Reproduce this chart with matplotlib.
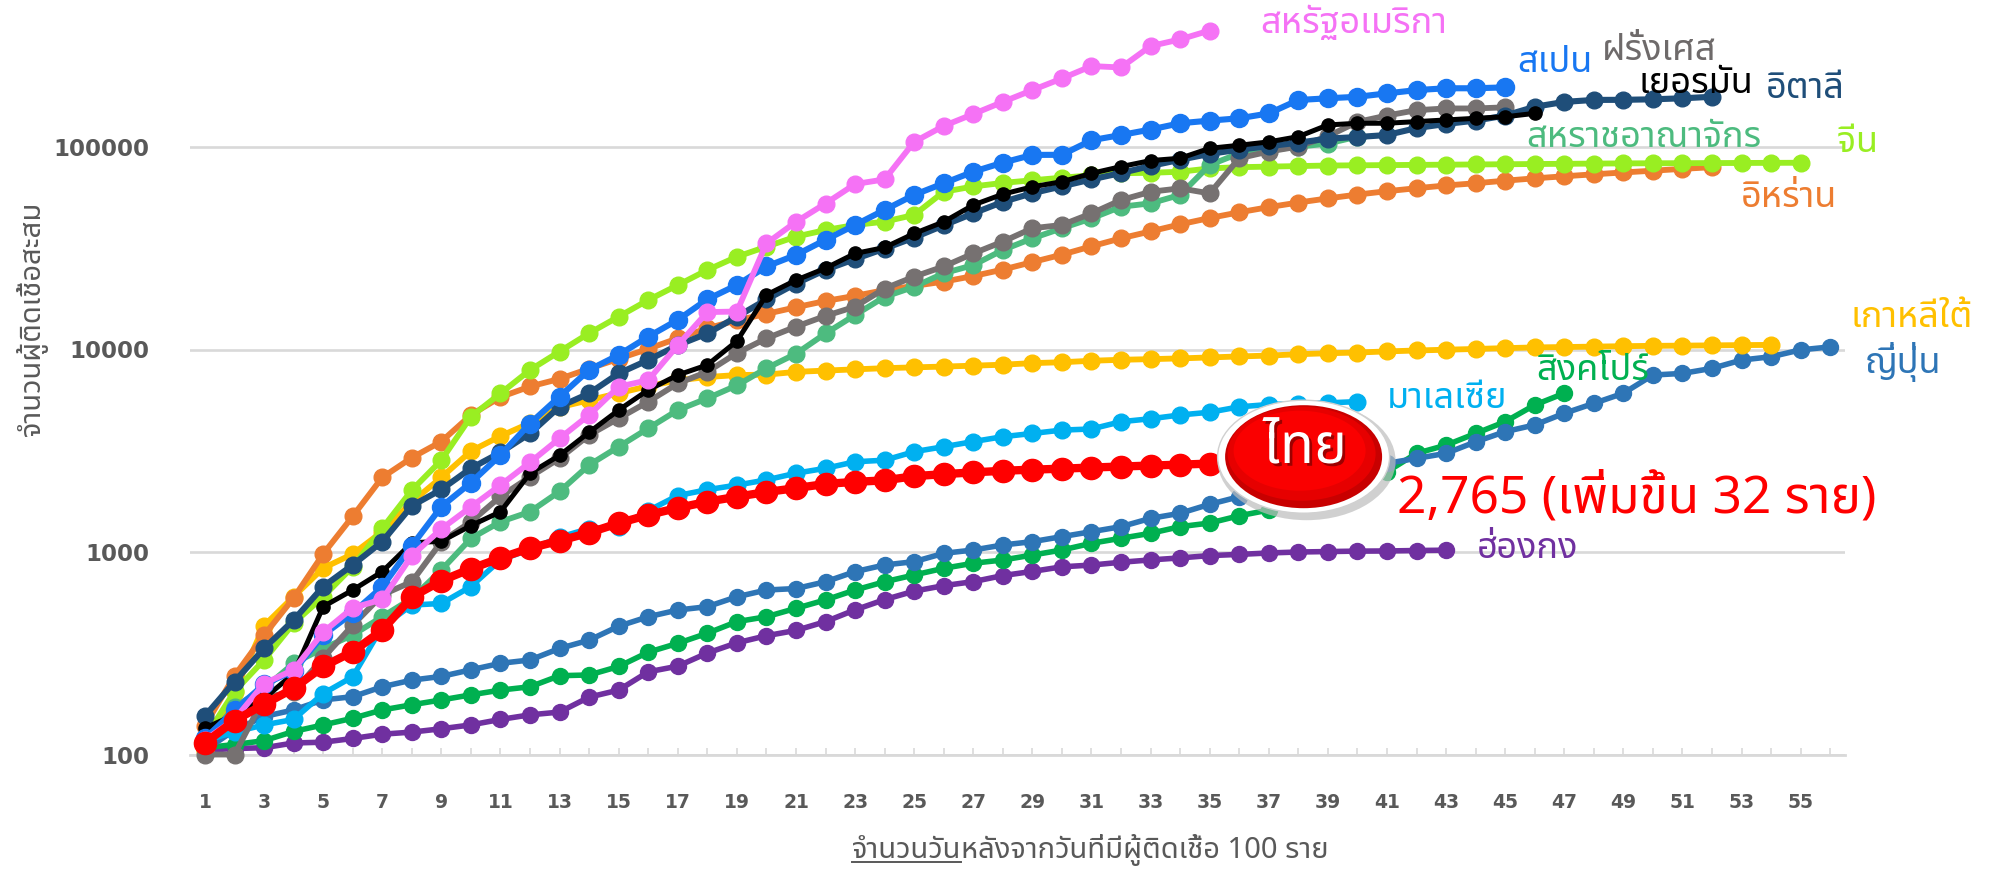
import matplotlib
matplotlib.use('Agg')
import matplotlib.pyplot as plt
import matplotlib.patches as patches
import matplotlib.patheffects as pe
from matplotlib import font_manager
import numpy as np

# cumulative cases, day 1 = first day with 100+ cases
usa = [118, 149, 224, 262, 402, 530, 583, 959, 1300, 1670, 2140, 2770, 3640, 4750, 6550, 7060,
       10500, 15300, 15400, 33400, 42700, 52600, 65600, 69200, 106000, 127000, 145500, 167000,
       191000, 218000, 251000, 247000, 315000, 340000, 376000]
spain = [120, 165, 222, 259, 389, 500, 673, 1073, 1675, 2200, 3010, 4310, 5850, 7930, 9400, 11570,
         14000, 17700, 20800, 25700, 29300, 34800, 41200, 48900, 58000, 66200, 75500, 83700, 91400,
         91500, 108000, 114600, 122000, 131000, 135000, 138600, 146500, 170600, 174000, 177000,
         184000, 191000, 195000, 195000, 197000]
france = [100, 100, 191, 204, 300, 435, 614, 713, 1125, 1410, 1880, 2350, 2900, 3780, 4570, 5520,
          6800, 7760, 9600, 11350, 12970, 14650, 16270, 20000, 22900, 25700, 29800, 34100, 39700,
          41200, 47000, 54700, 60100, 62500, 59000, 88000, 95000, 100500, 113000, 133000, 143000,
          152000, 155000, 155000, 157000]
germany = [135, 157, 189, 251, 537, 649, 800, 1110, 1130, 1350, 1580, 2450, 3000, 3900, 5020, 6310,
           7480, 8390, 11000, 18600, 22000, 25200, 29800, 31900, 37400, 42700, 51700, 58500, 63600,
           67400, 74100, 80000, 85700, 88000, 98500, 102000, 106000, 112500, 128500, 131000, 131000,
           133500, 136000, 138600, 141000, 146600]
italy = [155, 229, 334, 461, 675, 863, 1125, 1690, 2036, 2590, 3100, 3850, 5220, 6070, 7620, 8870,
         10500, 12000, 14500, 17660, 21157, 24747, 27980, 31506, 35713, 41035, 47021, 53578, 59138,
         63927, 69176, 74386, 80589, 86498, 92472, 97000, 101000, 105000, 110000, 112000, 114600,
         124000, 130000, 135000, 143000, 158000, 167000, 170800, 171000, 172000, 174000, 177000]
uk = [116, 172, 212, 282, 334, 389, 479, 590, 815, 1167, 1410, 1580, 1990, 2690, 3310, 4080, 5020,
      5740, 6650, 8077, 9529, 12000, 14800, 18200, 20400, 23800, 26100, 31000, 35400, 39700, 44400,
      50700, 52700, 58000, 81500, 93000, 96600, 100300, 104000, 112500]
china = [121, 205, 293, 445, 601, 846, 1309, 2020, 2840, 4660, 6070, 7920, 9770, 12030, 14530, 17550,
         20800, 24700, 28700, 32200, 36100, 38900, 41200, 42800, 46200, 60100, 63851, 66492, 68500,
         70548, 72436, 74185, 74576, 75465, 78400, 79500, 80000, 80500, 81000, 81200, 81400, 81600,
         81800, 82000, 82200, 82400, 82600, 82800, 83000, 83100, 83200, 83300, 83400, 83500, 83600]
iran = [139, 245, 388, 593, 978, 1501, 2336, 2922, 3513, 4747, 5823, 6566, 7161, 8042, 9000, 10075,
        11364, 12729, 13938, 14991, 16169, 17361, 18407, 19644, 20610, 21638, 23049, 24811, 27017,
        29406, 32332, 35408, 38309, 41495, 44605, 47593, 50468, 53183, 55743, 58226, 60500, 62589,
        64586, 66220, 68192, 70029, 71686, 73303, 74877, 76389, 77995, 79494]
korea = [104, 204, 433, 602, 833, 977, 1261, 1766, 2337, 3150, 3736, 4335, 5186, 5621, 6088, 6593,
         7041, 7314, 7478, 7513, 7755, 7869, 7979, 8086, 8162, 8236, 8320, 8413, 8565, 8652, 8799,
         8897, 8961, 9037, 9137, 9241, 9332, 9478, 9583, 9661, 9786, 9887, 9976, 10062, 10156,
         10237, 10284, 10331, 10384, 10423, 10450, 10480, 10512, 10537]
japan = [105, 132, 154, 166, 186, 193, 216, 233, 243, 262, 282, 293, 334, 367, 430, 479, 517, 537,
         601, 649, 660, 713, 800, 863, 896, 985, 1023, 1083, 1125, 1191, 1260, 1334, 1466, 1553,
         1720, 1875, 1953, 2100, 2300, 2495, 2740, 2900, 3070, 3500, 3930, 4240, 4840, 5420, 6080,
         7480, 7620, 8070, 8870, 9210, 9960, 10300]
singapore = [108, 112, 117, 130, 140, 151, 166, 176, 186, 197, 208, 216, 245, 247, 272, 320, 354,
             397, 453, 479, 527, 580, 649, 713, 770, 831, 880, 913, 966, 1023, 1104, 1169, 1237,
             1334, 1390, 1510, 1611, 1750, 1950, 2200, 2490, 3070, 3370, 3850, 4400, 5320, 6080]
malaysia = [117, 129, 140, 149, 200, 242, 428, 547, 557, 675, 914, 1030, 1183, 1306, 1330, 1600,
            1900, 2031, 2140, 2270, 2450, 2590, 2790, 2840, 3130, 3310, 3510, 3710, 3850, 4000,
            4050, 4400, 4550, 4750, 4900, 5210, 5350, 5400, 5450, 5530]
thailand = [114, 147, 177, 212, 272, 322, 411, 599, 721, 827, 934, 1045, 1136, 1245, 1388, 1524,
            1651, 1771, 1875, 1978, 2067, 2169, 2220, 2258, 2369, 2423, 2473, 2518, 2551, 2579,
            2613, 2643, 2672, 2700, 2733, 2765]
hongkong = [105, 107, 108, 114, 115, 120, 126, 129, 134, 140, 149, 157, 162, 192, 208, 256, 273, 317,
            356, 386, 410, 453, 518, 582, 641, 682, 714, 765, 802, 845, 862, 890, 914, 935, 960,
            973, 989, 1000, 1005, 1010, 1012, 1017, 1021]

y_ticks = [100, 1000, 10000, 100000]
y_ticklabels = ['100', '1000', '10000', '100000']
x_days = list(range(1, 57))
x_ticklabels = [str(d) if d % 2 == 1 else '' for d in x_days]


def thai_family():
    names = {f.name for f in font_manager.fontManager.ttflist}
    for key in ['Noto Sans Thai', 'Noto Sans Thai UI', 'Noto Sans Thai Looped', 'Sarabun',
                'Loma', 'Garuda', 'Waree', 'Tlwg Typo', 'Kinnari', 'Norasi']:
        if key in names:
            return key
    for n in sorted(names):
        if 'Thai' in n:
            return n
    return 'DejaVu Sans'


THAI = thai_family()
plt.rcParams['font.family'] = [THAI, 'DejaVu Sans']

W, H = 1993, 869
fig = plt.figure(figsize=(W / 100, H / 100), dpi=100)
fig.patch.set_facecolor('white')

ax_l, ax_r, ax_b = 190.2, 1845.0, 754.5
ax = fig.add_axes([ax_l / W, 1 - ax_b / H, (ax_r - ax_l) / W, ax_b / H])
ax.set_yscale('log')
ax.set_xlim(0.5, 56.5)
ax.set_ylim(100, 10 ** (2 + 754.5 / 202.5))

# (values, colour, line width, marker size, zorder)
series = [
    (hongkong, '#7030A0', 4.0, 11.5, 3),
    (singapore, '#00B050', 4.0, 11.5, 3),
    (japan, '#2E75B6', 4.0, 11.5, 3),
    (malaysia, '#00B0F0', 4.0, 12, 3),
    (korea, '#FFC000', 4.2, 12, 3),
    (iran, '#ED7D31', 4.2, 12, 3),
    (china, '#99EE22', 4.2, 12, 3),
    (uk, '#4DBB7F', 4.2, 12, 4),
    (france, '#767171', 4.2, 12, 4),
    (italy, '#1F4E79', 4.4, 12, 4),
    (germany, '#000000', 3.6, 9.5, 5),
    (spain, '#1877F2', 4.4, 13, 5),
    (usa, '#F572F5', 4.2, 12, 5),
    (thailand, '#FF0000', 6.0, 16, 8),
]
for vals, col, lw, ms, z in series:
    ax.plot(np.arange(1, len(vals) + 1), vals, '-o', color=col, lw=lw, ms=ms,
            zorder=z, clip_on=False)

for s in ['top', 'right', 'left']:
    ax.spines[s].set_visible(False)
ax.spines['bottom'].set_color('#D9D9D9')
ax.spines['bottom'].set_linewidth(2.0)
ax.set_yticks(y_ticks)
ax.set_yticklabels(y_ticklabels)
ax.yaxis.set_minor_locator(matplotlib.ticker.NullLocator())
ax.grid(axis='y', color='#D9D9D9', lw=1.9, zorder=0)
ax.set_axisbelow(True)
ax.tick_params(axis='y', length=0, pad=29.5, labelcolor='#595959')
ax.set_xticks(x_days)
ax.set_xticklabels(x_ticklabels)
ax.tick_params(axis='x', direction='in', length=5, width=1.2, color='#D9D9D9',
               pad=28, labelcolor='#595959')
for lbl in ax.get_yticklabels():
    lbl.set_fontfamily('DejaVu Sans')
    lbl.set_fontweight('bold')
    lbl.set_fontsize(16.5)
for lbl in ax.get_xticklabels():
    lbl.set_fontfamily('DejaVu Sans')
    lbl.set_fontweight('bold')
    lbl.set_fontsize(13.5)


def fx(x):
    return x / W


def fy(y):
    return 1 - y / H


labels = [
    ('สหรัฐอเมริกา', '#F572F5', 1260, 33),
    ('สเปน', '#1877F2', 1517, 72),
    ('ฝรั่งเศส', '#6E6A6A', 1602, 60),
    ('เยอรมัน', '#000000', 1639, 93),
    ('อิตาลี', '#1F4E79', 1766, 98),
    ('สหราชอาณาจักร', '#4DBB7F', 1526, 147),
    ('จีน', '#99EE22', 1837, 152),
    ('อิหร่าน', '#ED7D31', 1741, 207),
    ('เกาหลีใต้', '#FFC000', 1850, 327),
    ('ญี่ปุ่น', '#2E75B6', 1865, 373),
    ('สิงคโปร์', '#00B050', 1536, 380),
    ('มาเลเซีย', '#00B0F0', 1387, 408),
    ('ฮ่องกง', '#7030A0', 1477, 558),
]
for txt, col, x, y in labels:
    fig.text(fx(x), fy(y), txt, color=col, fontsize=26, ha='left', va='baseline')

fig.text(fx(1397), fy(512), '2,765 (เพิ่มขึ้น 32 ราย)', color='#FF0000', fontsize=37,
         ha='left', va='baseline')

# Thailand badge
cx, cy = 1303.6, 456.7
fig.patches.append(patches.Ellipse((fx(cx + 3), fy(cy + 4)), 178 / W, 119 / H,
                                   transform=fig.transFigure, facecolor='#BDBDBD',
                                   edgecolor='none', alpha=0.7, zorder=10))
fig.patches.append(patches.Ellipse((fx(cx), fy(cy)), 172 / W, 113 / H,
                                   transform=fig.transFigure, facecolor='white',
                                   edgecolor='#D0D0D0', lw=1, zorder=11))
fig.patches.append(patches.Ellipse((fx(cx), fy(cy)), 157 / W, 103 / H,
                                   transform=fig.transFigure, facecolor='#C80000',
                                   edgecolor='none', zorder=12))
fig.patches.append(patches.Ellipse((fx(cx - 2), fy(cy - 3)), 148 / W, 94 / H,
                                   transform=fig.transFigure, facecolor='#E60000',
                                   edgecolor='none', zorder=13))
fig.patches.append(patches.Ellipse((fx(cx - 4), fy(cy - 6)), 132 / W, 80 / H,
                                   transform=fig.transFigure, facecolor='#FA0000',
                                   edgecolor='none', zorder=14))
fig.text(fx(1305), fy(463), 'ไทย', color='white', fontsize=40, fontweight='bold',
         ha='center', va='baseline', zorder=20,
         path_effects=[pe.withSimplePatchShadow(offset=(2, -2), shadow_rgbFace='#600000',
                                                alpha=0.6)])

# axis titles
fig.text(fx(32), fy(318), 'จำนวนผู้ติดเชื้อสะสม', color='#595959', fontsize=21,
         rotation=90, ha='center', va='center')

fig.canvas.draw()
renderer = fig.canvas.get_renderer()
part1 = 'จำนวนวัน'
part2 = 'หลังจากวันที่มีผู้ติดเชื้อ 100 ราย'
t1 = fig.text(0, fy(858), part1, color='#595959', fontsize=21, ha='left', va='baseline')
t2 = fig.text(0, fy(858), part2, color='#595959', fontsize=21, ha='left', va='baseline')
w1 = t1.get_window_extent(renderer).width
w2 = t2.get_window_extent(renderer).width
x0 = 1090 - (w1 + w2) / 2
t1.set_x(fx(x0))
t2.set_x(fx(x0 + w1))
fig.add_artist(matplotlib.lines.Line2D([fx(x0), fx(x0 + w1)], [fy(862), fy(862)],
                                       color='#595959', lw=1.4))

fig.savefig('out.png', dpi=100, facecolor='white')
